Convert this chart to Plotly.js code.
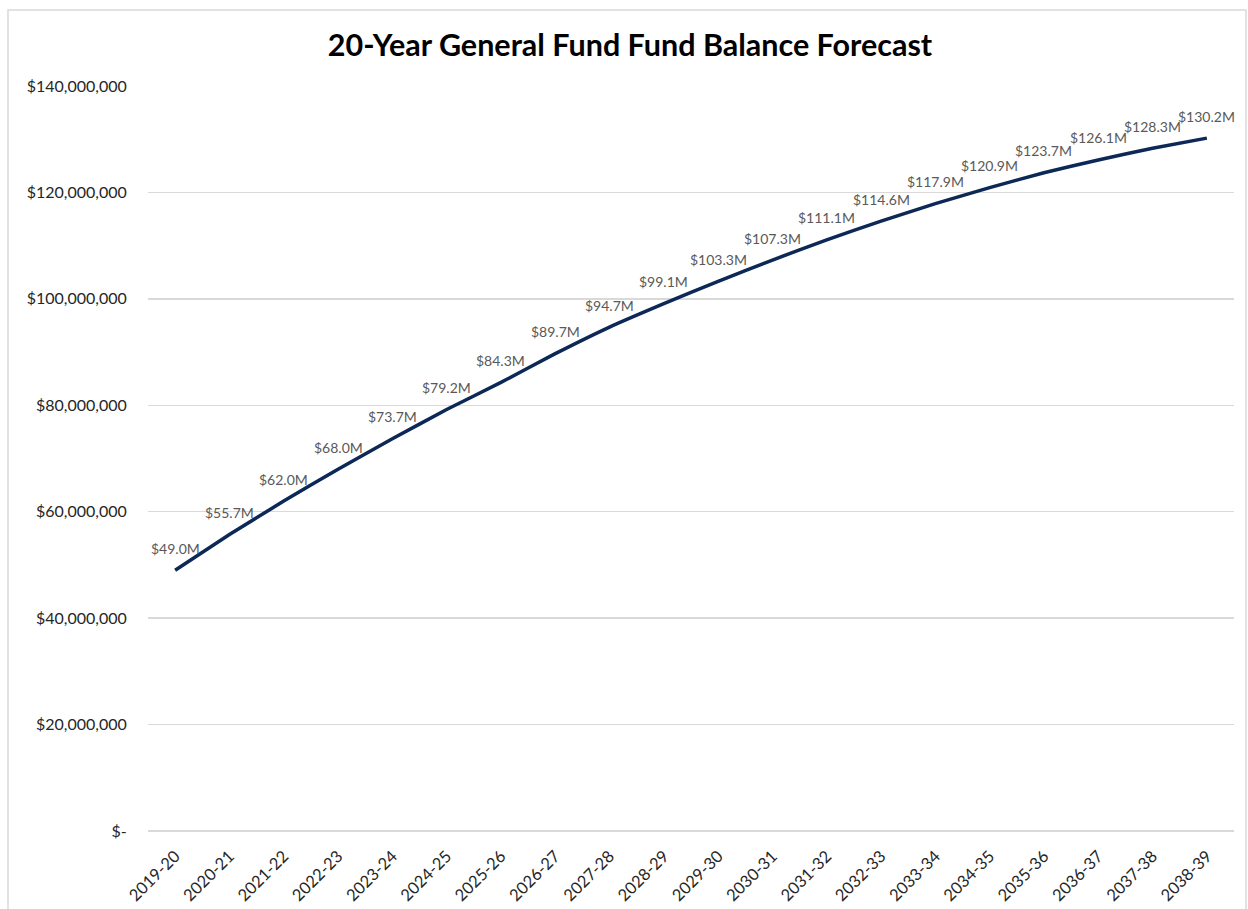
<!DOCTYPE html>
<html>
<head>
<meta charset="utf-8">
<script src="https://cdn.plot.ly/plotly-3.0.1.min.js"></script>
<style>html,body{margin:0;padding:0;background:#fff;}#chart{width:1248px;height:909px;}</style>
</head>
<body>
<div id="chart"></div>
<script>
const years = ["2019-20","2020-21","2021-22","2022-23","2023-24","2024-25","2025-26","2026-27","2027-28","2028-29","2029-30","2030-31","2031-32","2032-33","2033-34","2034-35","2035-36","2036-37","2037-38","2038-39"];
const balanceM = [49.0,55.7,62.0,68.0,73.7,79.2,84.3,89.7,94.7,99.1,103.3,107.3,111.1,114.6,117.9,120.9,123.7,126.1,128.3,130.2];
const yTickVals = [0,20e6,40e6,60e6,80e6,100e6,120e6,140e6];
const yTickText = ["$-","$20,000,000","$40,000,000","$60,000,000","$80,000,000","$100,000,000","$120,000,000","$140,000,000"];

const yVals = balanceM.map(v => v * 1e6);
const labels = balanceM.map(v => "$" + v.toFixed(1) + "M");

const trace = {
  x: years, y: yVals, type: "scatter", mode: "lines",
  line: {color: "#0c2857", width: 3.5, shape: "spline", smoothing: 0.4},
  hoverinfo: "skip"
};

const annotations = years.map((c, i) => ({
  x: c, y: yVals[i], xref: "x", yref: "y", text: labels[i], showarrow: false,
  yshift: 22, font: {family: "Lato, 'Open Sans', sans-serif", size: 14, color: "#595959"}
}));

const layout = {
  width: 1248, height: 909,
  paper_bgcolor: "#fff", plot_bgcolor: "#fff",
  margin: {l: 148, r: 14, t: 86, b: 78},
  showlegend: false,
  title: {
    text: "<b>20-Year General Fund Fund Balance Forecast</b>",
    font: {family: "Lato, 'Open Sans', sans-serif", size: 30.5, color: "#000"},
    x: 630/1248, xanchor: "center", xref: "container",
    y: 1 - 45/909, yanchor: "middle", yref: "container"
  },
  xaxis: {
    type: "category", range: [-0.5, 19.5],
    tickangle: -45, showgrid: false, zeroline: false, showline: false,
    ticks: "outside", ticklen: 8, tickcolor: "rgba(0,0,0,0)",
    tickfont: {family: "Lato, 'Open Sans', sans-serif", size: 16.5, color: "#262626"}
  },
  yaxis: {
    range: [0, 140e6], tickvals: yTickVals, ticktext: yTickText,
    showgrid: true, gridcolor: "#d9d9d9", gridwidth: 1.3,
    zeroline: true, zerolinecolor: "#d9d9d9", zerolinewidth: 1.3, showline: false,
    ticks: "outside", ticklen: 17, tickcolor: "rgba(0,0,0,0)",
    tickfont: {family: "Lato, 'Open Sans', sans-serif", size: 16, color: "#262626"}
  },
  annotations: annotations,
  shapes: [{
    type: "rect", xref: "paper", yref: "paper",
    x0: (8 - 148) / 1086, x1: (1246 - 148) / 1086,
    y0: (831 - 912) / 745, y1: (831 - 10) / 745,
    line: {color: "#d9d9d9", width: 1.5}, fillcolor: "rgba(0,0,0,0)", layer: "below"
  }]
};

Plotly.newPlot("chart", [trace], layout, {displayModeBar: false, staticPlot: true});
</script>
</body>
</html>
